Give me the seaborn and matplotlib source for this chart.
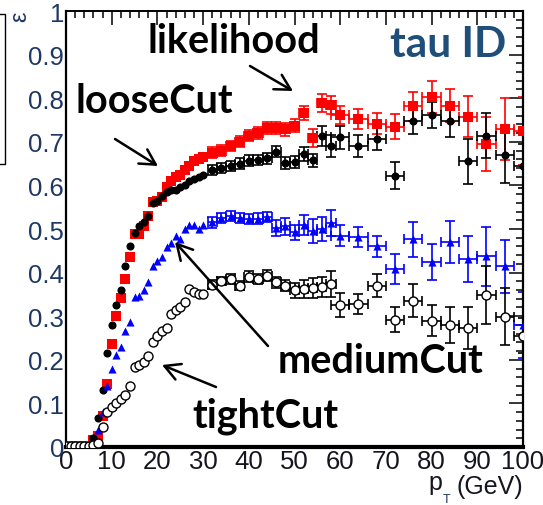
import matplotlib
matplotlib.use("Agg")
import matplotlib.pyplot as plt
import seaborn as sns
import pandas as pd
from matplotlib.patches import Rectangle, FancyArrowPatch
from matplotlib.ticker import MultipleLocator, FixedLocator, FixedFormatter

# ---------------------------------------------------------------- data
# bin centres in pT (GeV): 1 GeV bins up to 30, 2 GeV bins to 58, 4 GeV bins above
pt = [0, 1, 2, 3, 4, 5, 6, 7, 8, 9, 10, 11, 12, 13, 14, 15, 16, 17, 18, 19, 20,
      21, 22, 23, 24, 25, 26, 27, 28, 29, 30,
      32, 34, 36, 38, 40, 42, 44, 46, 48, 50, 52, 54, 56, 58,
      60, 64, 68, 72, 76, 80, 84, 88, 92, 96, 100]
bin_halfwidth = [0.5] * 31 + [1.0] * 14 + [2.0] * 11
first_err = 31  # error bars drawn from the first 2 GeV bin on

eff_likelihood = [0.003, 0.003, 0.003, 0.003, 0.003, 0.003, 0.016, 0.026, 0.070, 0.145,
                  0.236, 0.300, 0.341, 0.385, 0.435, 0.489, 0.489, 0.508, 0.530, 0.561,
                  0.565, 0.573, 0.596, 0.610, 0.620, 0.625, 0.635, 0.645, 0.655, 0.660,
                  0.665,
                  0.675, 0.680, 0.690, 0.700, 0.714, 0.720, 0.731, 0.732, 0.729, 0.737,
                  0.766, 0.708, 0.789, 0.784,
                  0.761, 0.752, 0.741, 0.735, 0.781, 0.802, 0.783, 0.758, 0.695, 0.729,
                  0.725]
err_likelihood = [0.012, 0.012, 0.012, 0.013, 0.013, 0.013, 0.014, 0.014, 0.015, 0.015,
                  0.015, 0.021, 0.020, 0.020,
                  0.021, 0.023, 0.024, 0.029, 0.034, 0.037, 0.038, 0.048, 0.062, 0.071,
                  0.078]

eff_loose = [0.003, 0.003, 0.003, 0.003, 0.003, 0.003, 0.020, 0.066, 0.131, 0.216,
             0.280, 0.326, 0.359, 0.414, 0.460, 0.490, 0.508, 0.517, 0.530, 0.560,
             0.565, 0.575, 0.585, 0.590, 0.590, 0.596, 0.600, 0.610, 0.615, 0.620,
             0.625,
             0.635, 0.640, 0.645, 0.650, 0.657, 0.658, 0.662, 0.677, 0.651, 0.653,
             0.672, 0.658, 0.714, 0.690,
             0.710, 0.690, 0.706, 0.622, 0.748, 0.761, 0.748, 0.655, 0.714, 0.670,
             0.644]
err_loose = [0.012, 0.012, 0.012, 0.012, 0.012, 0.012, 0.013, 0.013, 0.014, 0.014,
             0.015, 0.015, 0.023, 0.025,
             0.027, 0.025, 0.025, 0.031, 0.030, 0.030, 0.038, 0.052, 0.052, 0.065,
             0.050]

eff_medium = [0.003, 0.003, 0.003, 0.003, 0.003, 0.003, 0.010, 0.040, 0.080, 0.140,
              0.180, 0.211, 0.229, 0.267, 0.287, 0.343, 0.347, 0.359, 0.378, 0.414,
              0.427, 0.435, 0.458, 0.469, 0.485, 0.477, 0.500, 0.510, 0.510, 0.500,
              0.510,
              0.515, 0.525, 0.530, 0.525, 0.523, 0.524, 0.527, 0.502, 0.506, 0.492,
              0.509, 0.496, 0.500, 0.514,
              0.485, 0.481, 0.460, 0.408, 0.476, 0.424, 0.471, 0.431, 0.437, 0.414,
              0.280]
err_medium = [0.012, 0.012, 0.012, 0.012, 0.012, 0.012, 0.012, 0.019, 0.019, 0.017,
              0.023, 0.027, 0.027, 0.029,
              0.025, 0.023, 0.025, 0.034, 0.040, 0.042, 0.048, 0.052, 0.067, 0.060,
              0.076]

eff_tight = [0.003, 0.003, 0.003, 0.003, 0.003, 0.003, 0.005, 0.010, 0.045, 0.080,
             0.091, 0.101, 0.110, 0.119, 0.139, 0.183, 0.187, 0.194, 0.209, 0.240,
             0.255, 0.267, 0.274, 0.305, 0.315, 0.320, 0.332, 0.362, 0.355, 0.351,
             0.351,
             0.372, 0.381, 0.385, 0.370, 0.391, 0.385, 0.393, 0.378, 0.370, 0.359,
             0.362, 0.364, 0.366, 0.374,
             0.326, 0.328, 0.370, 0.292, 0.336, 0.290, 0.280, 0.272, 0.349, 0.299,
             0.255]
err_tight = [0.010, 0.010, 0.011, 0.011, 0.012, 0.012, 0.012, 0.013, 0.013, 0.017,
             0.021, 0.023, 0.023, 0.029,
             0.027, 0.024, 0.027, 0.029, 0.037, 0.036, 0.042, 0.048, 0.067, 0.065,
             0.040]

x_ticks = [0, 10, 20, 30, 40, 50, 60, 70, 80, 90, 100]
x_ticklabels = ["0", "10", "20", "30", "40", "50", "60", "70", "80", "90", "100"]
y_ticks = [0, 0.1, 0.2, 0.3, 0.4, 0.5, 0.6, 0.7, 0.8, 0.9, 1.0]
y_ticklabels = ["0", "0.1", "0.2", "0.3", "0.4", "0.5", "0.6", "0.7", "0.8", "0.9", "1"]

# ---------------------------------------------------------------- style
sns.set_style("white")
plt.rcParams["font.family"] = ["Liberation Sans", "DejaVu Sans"]

W, H = 543, 506
fig = plt.figure(figsize=(W / 100, H / 100), dpi=100)
ax = fig.add_axes([66 / W, 58 / H, 457 / W, 436 / H])


def fx(x):
    return x / W


def fy(y):
    return 1 - y / H


series = [
    ("likelihood", eff_likelihood, err_likelihood, "s", "#ff0000", "#ff0000", 46, 0),
    ("looseCut", eff_loose, err_loose, "o", "#000000", "#000000", 34, 0),
    ("mediumCut", eff_medium, err_medium, "^", "#0000ff", "#0000ff", 34, 0),
    ("tightCut", eff_tight, err_tight, "o", "white", "#000000", 42, 1.0),
]

for name, eff, err, mk, face, edge, size, lw in series:
    df = pd.DataFrame({"pt": pt, "eff": eff, "xerr": bin_halfwidth})
    tail = df.iloc[first_err:]
    ax.errorbar(tail["pt"], tail["eff"], yerr=err, xerr=tail["xerr"],
                fmt="none", ecolor=edge, elinewidth=1.2, capsize=3.6,
                capthick=1.2, zorder=2, clip_on=True)
    sns.scatterplot(data=df, x="pt", y="eff", marker=mk, s=size,
                    color=face, edgecolor=edge, linewidth=lw, ax=ax,
                    zorder=3, legend=False, clip_on=True)

# ---------------------------------------------------------------- axes
ax.set_xlim(0, 100)
ax.set_ylim(0, 1)
ax.set_xlabel("")
ax.set_ylabel("")
ax.xaxis.set_major_locator(FixedLocator(x_ticks))
ax.xaxis.set_major_formatter(FixedFormatter(x_ticklabels))
ax.yaxis.set_major_locator(FixedLocator(y_ticks))
ax.yaxis.set_major_formatter(FixedFormatter(y_ticklabels))
ax.xaxis.set_minor_locator(MultipleLocator(2))
ax.yaxis.set_minor_locator(MultipleLocator(0.02))
ax.tick_params(which="both", direction="in", top=True, right=True,
               color="black", width=1.1)
ax.tick_params(which="major", length=10)
ax.tick_params(which="minor", length=5)
ax.tick_params(axis="x", which="major", labelsize=18.5, pad=1.5,
               labelcolor="#15151f")
ax.tick_params(axis="y", which="major", labelsize=18.5, pad=1.5,
               labelcolor="#1f3763")
for side, w in [("left", 1.6), ("bottom", 3.0), ("right", 1.6), ("top", 1.4)]:
    ax.spines[side].set_linewidth(w)
    ax.spines[side].set_color("black")
    ax.spines[side].set_visible(True)

# axis titles
fig.text(fx(523), fy(494), "(GeV)", ha="right", va="baseline", fontsize=18,
         color="#15151f")
fig.text(fx(428), fy(490), "p", ha="left", va="baseline", fontsize=18,
         color="#15151f")
fig.text(fx(443), fy(503), "T", ha="left", va="baseline", fontsize=9,
         color="#1f3763")
fig.text(fx(20), fy(17), "ε", ha="center", va="center", rotation=90,
         fontsize=17, color="#1f3763")

# ---------------------------------------------------------------- annotations
bold = dict(fontsize=28.5, fontweight="bold", family=["Lato", "DejaVu Sans"],
            va="baseline", ha="left")
fig.text(fx(147), fy(53), "likelihood", color="black", **bold)
fig.text(fx(75), fy(113), "looseCut", color="black", **bold)
fig.text(fx(278), fy(373), "mediumCut", color="black", **bold)
fig.text(fx(192), fy(428), "tightCut", color="black", **bold)
fig.text(fx(390), fy(57), "tau ID", color="#1f4e79",
         **{**bold, "fontsize": 30.5})

arrow = dict(arrowstyle="->,head_length=0.55,head_width=0.3", lw=1.8,
             color="black", mutation_scale=20, shrinkA=0, shrinkB=0)
for tail_pt, head_pt in [((250, 67), (293, 92)),
                         ((115, 140), (158, 167)),
                         ((268, 347), (175, 243)),
                         ((216, 388), (162, 366))]:
    fig.add_artist(FancyArrowPatch(
        (fx(tail_pt[0]), fy(tail_pt[1])), (fx(head_pt[0]), fy(head_pt[1])),
        transform=fig.transFigure, **arrow))

# edge of the neighbouring legend frame
fig.add_artist(Rectangle((fx(-6), fy(165)), 10.5 / W, 150 / H,
                         transform=fig.transFigure, fill=False, lw=1.0,
                         edgecolor="black"))

fig.savefig("out.png", dpi=100, facecolor="white")
